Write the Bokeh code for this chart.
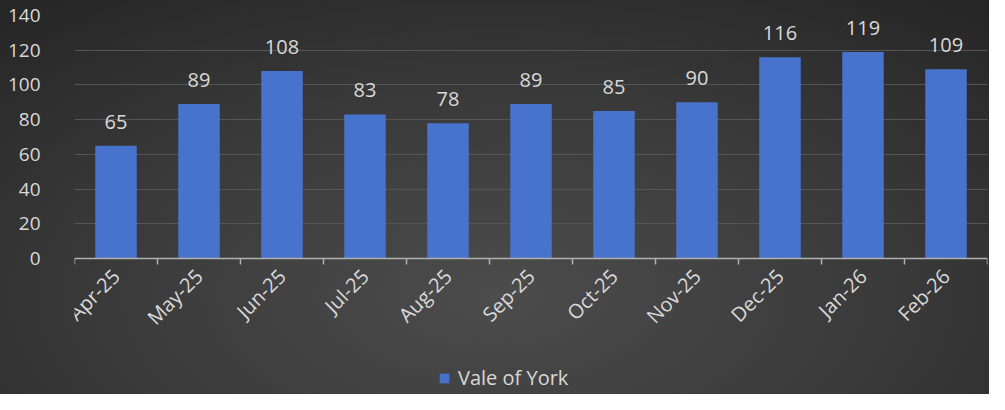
from math import pi
from bokeh.plotting import figure
from bokeh.models import ColumnDataSource, FixedTicker, Legend, LegendItem, Range1d
from bokeh.core.properties import value
from bokeh.embed import file_html
from bokeh.resources import INLINE

months = ["Apr-25", "May-25", "Jun-25", "Jul-25", "Aug-25", "Sep-25",
          "Oct-25", "Nov-25", "Dec-25", "Jan-26", "Feb-26"]
counts = [65, 89, 108, 83, 78, 89, 85, 90, 116, 119, 109]
series_name = "Vale of York"
y_ticks = [0, 20, 40, 60, 80, 100, 120, 140]

FONT = "Open Sans"
TXT = "#d9d9d9"

xs = list(range(len(months)))
src = ColumnDataSource(dict(x=xs, y=counts, lab=[str(c) for c in counts]))

# frame spans the full height; the part below 0 holds the axis labels and legend
p = figure(width=989, height=394, output_backend="svg", toolbar_location=None,
           x_range=Range1d(-0.5, len(months) - 0.5), y_range=Range1d(-78.3, 140),
           min_border_left=74, min_border_right=2, min_border_top=15, min_border_bottom=0)
p.background_fill_color = None
p.border_fill_color = None
p.outline_line_color = None
p.styles = {"background": "radial-gradient(ellipse 75% 95% at 50% 75%, #4c4c4c 0%, #393939 55%, #262626 100%)"}

r = p.vbar(x="x", top="y", width=0.5, source=src, fill_color="#4873cc", line_color=None)
p.text(x="x", y="y", text="lab", source=src, y_offset=-24, text_align="center",
       text_baseline="middle", text_color=TXT, text_font=value(FONT), text_font_size="20px")

p.xgrid.grid_line_color = None
p.ygrid.grid_line_color = "#555555"
p.ygrid.grid_line_width = 1
p.ygrid.ticker = FixedTicker(ticks=y_ticks)

p.yaxis.ticker = FixedTicker(ticks=y_ticks)
p.yaxis.axis_line_color = None
p.yaxis.major_tick_line_color = None
p.yaxis.minor_tick_line_color = None
p.yaxis.major_label_text_color = TXT
p.yaxis.major_label_text_font = FONT
p.yaxis.major_label_text_font_size = "19px"
p.yaxis.major_label_standoff = 28

p.xaxis.fixed_location = 0
p.xaxis.ticker = FixedTicker(ticks=xs, minor_ticks=[i - 0.5 for i in range(len(months) + 1)])
p.xaxis.major_label_overrides = {i: m for i, m in zip(xs, months)}
p.xaxis.major_label_orientation = pi / 4
p.xaxis.axis_line_color = "#b0b0b0"
p.xaxis.axis_line_width = 1.5
p.xaxis.major_tick_line_color = None
p.xaxis.minor_tick_line_color = "#b0b0b0"
p.xaxis.minor_tick_line_width = 1.5
p.xaxis.minor_tick_out = 6
p.xaxis.minor_tick_in = 0
p.xaxis.major_label_text_color = TXT
p.xaxis.major_label_text_font = FONT
p.xaxis.major_label_text_font_size = "20px"
p.xaxis.major_label_standoff = 8

legend = Legend(items=[LegendItem(label=series_name, renderers=[r])], orientation="horizontal",
                location=(364, 3), background_fill_alpha=0, border_line_color=None,
                label_text_color=TXT, label_text_font=FONT, label_text_font_size="20px",
                glyph_width=12, glyph_height=12, margin=0, padding=0, label_standoff=8)
p.add_layout(legend, "center")

open("out.html", "w").write(file_html(p, INLINE))
